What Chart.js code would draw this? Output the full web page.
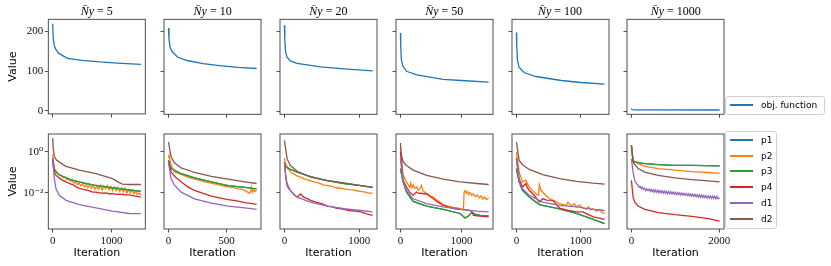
<!DOCTYPE html>
<html lang="en">
<head>
<meta charset="utf-8">
<title>Objective and residuals per N̄y</title>
<script src="https://cdn.jsdelivr.net/npm/chart.js@4.4.1/dist/chart.umd.min.js"></script>
<style>
  html, body { margin: 0; padding: 0; background: #fff; }
  #figure { position: relative; width: 831px; height: 266px; overflow: hidden; }
  .panel { position: absolute; }
  .panel-title {
    position: absolute; top: 3px; text-align: center;
    font-family: "Liberation Serif", "DejaVu Serif", serif; font-size: 12px; line-height: 16px; color: #000;
  }
  .legend {
    position: absolute; box-sizing: border-box; border: 1px solid #cfcfcf; border-radius: 3px;
    background: rgba(255, 255, 255, 0.8);
    font-family: "DejaVu Sans", sans-serif; font-size: 9px; color: #000;
  }
  .legend-row { position: absolute; left: 0; height: 12px; width: 100%; }
  .legend-line { position: absolute; top: 5px; width: 23px; height: 1.5px; }
  .legend-text { position: absolute; top: 0; line-height: 12px; white-space: nowrap; }
</style>
</head>
<body>
<div id="figure"></div>
<script>
const panelTitles = ["5", "10", "20", "50", "100", "1000"];
const seriesNames = ["p1", "p2", "p3", "p4", "d1", "d2"];
const seriesColors = ["#1f77b4", "#ff7f0e", "#2ca02c", "#d62728", "#9467bd", "#8c564b"];
const objLabel = "obj. function";
const objColor = "#1f77b4";

// x range per column (data extent, iterations) and tick values
const xExtent = [1500, 760, 1180, 1445, 1370, 2010];
const xTickValues = [[0, 1000], [0, 500], [0, 1000], [0, 1000], [0, 1000], [0, 2000]];
const objTicks = [0, 100, 200];
const logTicks = [1, 0.01];
const logTickLabels = ["10⁰", "10⁻²"];

// objective function, top row  [iteration, value]
const obj_N5 = [[0, 219], [8, 185], [25, 165], [50, 155], [100, 145], [250, 132], [500, 127], [800, 123], [1100, 120], [1500, 117]];
const obj_N10 = [[0, 208], [5, 180], [15, 160], [30, 150], [80, 135], [160, 127], [300, 119], [420, 115], [600, 110], [760, 107]];
const obj_N20 = [[0, 215], [5, 180], [15, 150], [35, 135], [80, 126], [170, 120], [480, 111], [800, 106], [1180, 101]];
const obj_N50 = [[0, 196], [5, 165], [15, 130], [40, 113], [100, 100], [270, 91], [700, 80], [1000, 77], [1445, 73]];
const obj_N100 = [[0, 197], [5, 165], [15, 130], [40, 110], [120, 97], [300, 87], [700, 77], [1000, 72], [1370, 68]];
const obj_N1000 = [[0, 7], [15, 4], [100, 3.5], [2010, 3.3]];

// residuals, bottom row
const p2_N5 = [[0, 0.8], [10, 0.35], [30, 0.14], [56, 0.105], [90, 0.085], [120, 0.07], [150, 0.072], [180, 0.055], [210, 0.06], [240, 0.045], [270, 0.05], [300, 0.038], [330, 0.042], [360, 0.03], [390, 0.036], [420, 0.026], [450, 0.03], [480, 0.022], [510, 0.028], [540, 0.02], [570, 0.026], [600, 0.018], [630, 0.024], [660, 0.017], [690, 0.025], [720, 0.015], [750, 0.022], [780, 0.015], [810, 0.024], [840, 0.014], [870, 0.022], [900, 0.016], [930, 0.023], [960, 0.014], [990, 0.021], [1020, 0.013], [1050, 0.02], [1080, 0.013], [1110, 0.019], [1140, 0.012], [1170, 0.018], [1200, 0.011], [1230, 0.017], [1260, 0.01], [1290, 0.015], [1320, 0.01], [1350, 0.014], [1380, 0.009], [1410, 0.012], [1440, 0.0085], [1470, 0.01], [1500, 0.008]];
const p3_N5 = [[0, 0.5], [10, 0.3], [30, 0.14], [100, 0.079], [300, 0.045], [500, 0.032], [700, 0.024], [1000, 0.018], [1300, 0.014], [1500, 0.012]];
const p4_N5 = [[0, 0.4], [10, 0.2], [30, 0.1], [56, 0.072], [150, 0.045], [226, 0.035], [300, 0.028], [350, 0.025], [400, 0.02], [452, 0.017], [520, 0.015], [600, 0.0135], [680, 0.011], [734, 0.011], [820, 0.0098], [900, 0.01], [960, 0.0092], [1017, 0.0093], [1080, 0.0086], [1150, 0.0088], [1220, 0.0082], [1300, 0.008], [1380, 0.0072], [1440, 0.0068], [1500, 0.0063]];
const d1_N5 = [[0, 0.47], [28, 0.05], [56, 0.016], [113, 0.0077], [226, 0.0044], [452, 0.0027], [734, 0.0019], [1017, 0.0013], [1300, 0.001], [1500, 0.00098]];
const d2_N5 = [[0, 4.8], [10, 1.3], [30, 0.6], [60, 0.42], [113, 0.32], [226, 0.2], [452, 0.13], [734, 0.087], [1017, 0.05], [1130, 0.032], [1190, 0.027], [1300, 0.026], [1500, 0.026]];

const p2_N10 = [[0, 0.5], [6, 0.69], [23, 0.22], [52, 0.11], [110, 0.08], [170, 0.06], [225, 0.047], [280, 0.04], [330, 0.033], [370, 0.03], [420, 0.026], [470, 0.022], [514, 0.02], [560, 0.019], [600, 0.016], [640, 0.015], [673, 0.012], [700, 0.0095], [710, 0.012], [715, 0.019], [725, 0.011], [735, 0.014], [745, 0.012], [760, 0.013]];
const p3_N10 = [[0, 0.4], [23, 0.155], [110, 0.087], [225, 0.054], [370, 0.035], [514, 0.023], [659, 0.019], [760, 0.016]];
const p4_N10 = [[0, 0.35], [9, 0.22], [23, 0.105], [60, 0.06], [110, 0.035], [160, 0.021], [225, 0.0135], [300, 0.0095], [370, 0.0071], [440, 0.0058], [514, 0.0047], [580, 0.0042], [659, 0.0034], [710, 0.0031], [760, 0.0028]];
const d1_N10 = [[0, 0.32], [23, 0.05], [52, 0.024], [110, 0.011], [225, 0.0052], [370, 0.0032], [514, 0.0023], [659, 0.0019], [760, 0.0016]];
const d2_N10 = [[0, 3.1], [23, 0.58], [52, 0.3], [110, 0.166], [225, 0.1], [370, 0.065], [514, 0.047], [659, 0.035], [760, 0.029]];

const p2_N20 = [[0, 0.5], [13, 0.27], [81, 0.105], [170, 0.068], [260, 0.05], [350, 0.039], [420, 0.033], [460, 0.031], [520, 0.025], [574, 0.023], [640, 0.021], [690, 0.018], [750, 0.017], [798, 0.016], [860, 0.0145], [920, 0.0142], [980, 0.0125], [1022, 0.012], [1080, 0.011], [1130, 0.0102], [1180, 0.0097]];
const p3_N20 = [[0, 0.3], [13, 0.19], [81, 0.141], [170, 0.105], [350, 0.063], [574, 0.04], [798, 0.029], [1022, 0.023], [1180, 0.019]];
const p4_N20 = [[0, 0.32], [20, 0.05], [36, 0.023], [60, 0.016], [81, 0.013], [126, 0.0083], [170, 0.0063], [215, 0.0091], [240, 0.0072], [260, 0.0063], [300, 0.0055], [350, 0.0044], [420, 0.0036], [480, 0.0031], [520, 0.0029], [574, 0.0023], [640, 0.0021], [700, 0.0018], [760, 0.0017], [798, 0.0016], [860, 0.0014], [940, 0.0013], [1022, 0.0012], [1100, 0.00095], [1180, 0.00081]];
const d1_N20 = [[0, 0.32], [20, 0.06], [36, 0.029], [81, 0.013], [170, 0.0063], [350, 0.0036], [574, 0.0023], [798, 0.0017], [1022, 0.0014], [1180, 0.0012]];
const d2_N20 = [[0, 3.7], [36, 0.47], [81, 0.22], [170, 0.115], [350, 0.06], [574, 0.04], [798, 0.031], [1022, 0.023], [1180, 0.019]];

const p2_N50 = [[0, 1.8], [44, 0.072], [99, 0.035], [154, 0.019], [170, 0.03], [190, 0.018], [209, 0.025], [230, 0.017], [264, 0.02], [290, 0.014], [319, 0.016], [346, 0.023], [370, 0.013], [400, 0.011], [429, 0.0093], [480, 0.0075], [538, 0.0064], [600, 0.0045], [650, 0.0035], [703, 0.0026], [780, 0.0023], [868, 0.002], [950, 0.0018], [1033, 0.0016], [1040, 0.0016], [1044, 0.0112], [1060, 0.013], [1080, 0.0095], [1100, 0.012], [1120, 0.0085], [1143, 0.0105], [1170, 0.0075], [1200, 0.009], [1230, 0.0065], [1260, 0.008], [1290, 0.0058], [1320, 0.0072], [1350, 0.005], [1380, 0.0065], [1410, 0.0047], [1445, 0.0058]];
const p3_N50 = [[0, 0.155], [44, 0.035], [99, 0.0112], [209, 0.0039], [429, 0.0023], [703, 0.0016], [978, 0.001], [1060, 0.0006], [1100, 0.0007], [1170, 0.0011], [1240, 0.00088], [1308, 0.00081], [1445, 0.00076]];
const p4_N50 = [[0, 1.0], [44, 0.042], [99, 0.0195], [150, 0.011], [209, 0.0078], [264, 0.0112], [300, 0.0095], [340, 0.0098], [380, 0.0092], [429, 0.0093], [480, 0.007], [538, 0.0052], [600, 0.0038], [703, 0.0025], [800, 0.002], [900, 0.0017], [978, 0.0016], [1060, 0.0015], [1143, 0.0014], [1175, 0.0012], [1198, 0.00081], [1300, 0.00075], [1445, 0.00068]];
const d1_N50 = [[0, 0.47], [44, 0.035], [99, 0.0135], [209, 0.0052], [429, 0.003], [703, 0.0021], [978, 0.0016], [1253, 0.0013], [1445, 0.0012]];
const d2_N50 = [[0, 2.75], [16, 0.69], [44, 0.35], [99, 0.22], [209, 0.13], [429, 0.072], [703, 0.047], [978, 0.035], [1253, 0.029], [1445, 0.026]];

const p2_N100 = [[0, 1.0], [42, 0.105], [94, 0.035], [147, 0.042], [199, 0.019], [251, 0.013], [330, 0.0078], [345, 0.008], [356, 0.026], [382, 0.0135], [450, 0.008], [513, 0.0052], [600, 0.004], [670, 0.003], [775, 0.0025], [800, 0.0035], [850, 0.0024], [900, 0.003], [932, 0.0021], [980, 0.0026], [1037, 0.0018], [1089, 0.0016], [1120, 0.0021], [1150, 0.0015], [1194, 0.0017], [1246, 0.0013], [1290, 0.0016], [1330, 0.0011], [1370, 0.001]];
const p3_N100 = [[0, 0.155], [42, 0.035], [94, 0.0135], [199, 0.0063], [356, 0.0027], [408, 0.0025], [670, 0.0017], [932, 0.001], [1194, 0.00052], [1370, 0.00032]];
const p4_N100 = [[0, 0.5], [42, 0.05], [94, 0.0195], [147, 0.029], [170, 0.018], [199, 0.0135], [280, 0.0075], [356, 0.0036], [408, 0.0052], [470, 0.0045], [565, 0.0044], [620, 0.0028], [670, 0.0018], [800, 0.0014], [932, 0.0012], [1037, 0.0012], [1110, 0.0009], [1194, 0.00068], [1290, 0.0006], [1370, 0.00052]];
const d1_N100 = [[0, 0.47], [42, 0.035], [94, 0.016], [199, 0.0077], [408, 0.0036], [670, 0.0025], [932, 0.0021], [1194, 0.0016], [1370, 0.0014]];
const d2_N100 = [[0, 3.1], [42, 0.39], [94, 0.24], [199, 0.141], [408, 0.079], [670, 0.05], [932, 0.037], [1194, 0.03], [1370, 0.027]];

const p2_N1000 = [[0, 2.1], [38, 0.39], [153, 0.27], [305, 0.2], [611, 0.155], [992, 0.13], [1374, 0.11], [1756, 0.1], [2010, 0.091]];
const p3_N1000 = [[0, 2.1], [38, 0.35], [153, 0.3], [305, 0.27], [611, 0.24], [992, 0.224], [1374, 0.22], [2010, 0.21]];
const p4_N1000 = [[0, 0.042], [38, 0.0063], [76, 0.0036], [153, 0.0023], [305, 0.0016], [611, 0.0011], [992, 0.00087], [1374, 0.00072], [1756, 0.00056], [2010, 0.00042]];
const d1_N1000 = [[0, 0.47], [38, 0.105], [76, 0.042], [110, 0.03], [150, 0.024], [175, 0.019], [200, 0.021], [225, 0.016], [250, 0.019], [275, 0.015], [300, 0.017], [325, 0.013], [350, 0.016], [375, 0.013], [400, 0.0155], [425, 0.012], [450, 0.015], [475, 0.0115], [500, 0.0145], [525, 0.011], [550, 0.014], [575, 0.011], [600, 0.0135], [625, 0.0105], [650, 0.013], [675, 0.0102], [700, 0.0128], [725, 0.0098], [750, 0.0125], [775, 0.0096], [800, 0.012], [825, 0.0093], [850, 0.0118], [875, 0.0092], [900, 0.0115], [925, 0.009], [950, 0.011], [975, 0.0087], [1000, 0.0108], [1025, 0.0085], [1050, 0.0105], [1075, 0.0083], [1100, 0.0102], [1125, 0.0081], [1150, 0.0099], [1175, 0.0079], [1200, 0.0096], [1225, 0.0077], [1250, 0.0094], [1275, 0.0075], [1300, 0.0092], [1325, 0.0072], [1350, 0.009], [1375, 0.007], [1400, 0.0088], [1425, 0.0068], [1450, 0.0085], [1475, 0.0066], [1500, 0.0083], [1525, 0.0064], [1550, 0.008], [1575, 0.0062], [1600, 0.0078], [1625, 0.006], [1650, 0.0076], [1675, 0.0059], [1700, 0.0074], [1725, 0.0057], [1750, 0.0072], [1775, 0.0056], [1800, 0.0071], [1825, 0.0055], [1850, 0.007], [1875, 0.0054], [1900, 0.0069], [1925, 0.0053], [1950, 0.0068], [1975, 0.0052], [2010, 0.0058]];
const d2_N1000 = [[0, 2.1], [38, 0.32], [153, 0.155], [305, 0.105], [611, 0.072], [992, 0.054], [1374, 0.045], [1756, 0.039], [2010, 0.035]];

// p1 lies under p3 in every panel, so it never shows
const p1_N5 = p3_N5, p1_N10 = p3_N10, p1_N20 = p3_N20, p1_N50 = p3_N50, p1_N100 = p3_N100, p1_N1000 = p3_N1000;

const objSeries = [obj_N5, obj_N10, obj_N20, obj_N50, obj_N100, obj_N1000];
const residualSeries = [
  [p1_N5, p2_N5, p3_N5, p4_N5, d1_N5, d2_N5],
  [p1_N10, p2_N10, p3_N10, p4_N10, d1_N10, d2_N10],
  [p1_N20, p2_N20, p3_N20, p4_N20, d1_N20, d2_N20],
  [p1_N50, p2_N50, p3_N50, p4_N50, d1_N50, d2_N50],
  [p1_N100, p2_N100, p3_N100, p4_N100, d1_N100, d2_N100],
  [p1_N1000, p2_N1000, p3_N1000, p4_N1000, d1_N1000, d2_N1000]
];

const SPINE_COLOR = "#3d3d3d";
const SERIF = "'Liberation Serif', 'DejaVu Serif', serif";
const SANS = "'DejaVu Sans', sans-serif";

// frame around each plot area (matplotlib spines)
const framePlugin = {
  id: "frame",
  afterDraw(chart) {
    const { ctx, chartArea: a } = chart;
    ctx.save();
    ctx.strokeStyle = SPINE_COLOR;
    ctx.lineWidth = 0.9;
    ctx.strokeRect(a.left, a.top, a.right - a.left, a.bottom - a.top);
    ctx.restore();
  }
};

document.addEventListener("DOMContentLoaded", () => {
  const figure = document.getElementById("figure");
  for (let col = 0; col < 6; col++) {
    makePanel(figure, 0, col);
    makePanel(figure, 1, col);
    addTitle(figure, col);
  }
  addLegend(figure, 725, 96, 100, 19, [objLabel], [objColor]);
  addLegend(figure, 725, 131, 52, 98, seriesNames, seriesColors);
});

function boxLeftOf(col) {
  return 48.3 + col * 115.8;
}

function toPoints(pairs) {
  return pairs.map(([x, y]) => ({ x, y }));
}

function makePanel(figure, row, col) {
  const boxWidth = 97;
  const boxHeight = 95;
  const leftSpace = col === 0 ? boxLeftOf(0) : 14;
  const rightSpace = 16;
  const wrapTop = row === 0 ? 0 : 122;
  const wrapHeight = row === 0 ? 122 : 144;
  const padTop = row === 0 ? 19.3 : 12;
  const xAxisHeight = wrapHeight - padTop - boxHeight;

  const wrap = document.createElement("div");
  wrap.className = "panel";
  wrap.style.left = `${boxLeftOf(col) - leftSpace}px`;
  wrap.style.top = `${wrapTop}px`;
  wrap.style.width = `${leftSpace + boxWidth + rightSpace}px`;
  wrap.style.height = `${wrapHeight}px`;
  const canvas = document.createElement("canvas");
  wrap.appendChild(canvas);
  figure.appendChild(wrap);

  const margin = xExtent[col] * 0.05;
  const tickFont = { family: SERIF, size: 11 };
  const gridStyle = { drawOnChartArea: false, drawTicks: true, tickLength: 3.5, color: SPINE_COLOR, lineWidth: 0.9 };

  let datasets;
  if (row === 0) {
    datasets = [{ label: objLabel, data: toPoints(objSeries[col]), borderColor: objColor, order: 0 }];
  } else {
    // later series on top, as matplotlib stacks them
    datasets = seriesNames.map((name, i) => ({
      label: name,
      data: toPoints(residualSeries[col][i]),
      borderColor: seriesColors[i],
      order: seriesNames.length - i
    }));
  }
  datasets.forEach((ds) => {
    ds.borderWidth = 1.3;
    ds.pointRadius = 0;
    ds.fill = false;
    ds.tension = 0;
  });

  const yScale = row === 0
    ? {
        type: "linear",
        min: -7.5,
        max: 230,
        afterBuildTicks: (axis) => { axis.ticks = objTicks.map((v) => ({ value: v })); },
        ticks: { display: col === 0, font: tickFont, color: "#111", padding: 1.5, callback: (v) => String(v) }
      }
    : {
        type: "logarithmic",
        min: 1.75e-4,
        max: 7.55,
        afterBuildTicks: (axis) => { axis.ticks = logTicks.map((v) => ({ value: v })); },
        ticks: { display: col === 0, font: tickFont, color: "#111", padding: 1.5, callback: (v) => logTickLabels[logTicks.indexOf(v)] }
      };
  yScale.bounds = "data";
  yScale.grid = gridStyle;
  yScale.border = { display: false };
  yScale.afterFit = (axis) => { axis.width = leftSpace; };
  yScale.title = {
    display: col === 0,
    text: "Value",
    font: { family: SANS, size: 11 },
    color: "#000",
    padding: { top: 7, bottom: 0 }
  };

  const xScale = {
    type: "linear",
    bounds: "data",
    min: -margin,
    max: xExtent[col] + margin,
    afterBuildTicks: (axis) => { axis.ticks = xTickValues[col].map((v) => ({ value: v })); },
    ticks: { display: row === 1, font: tickFont, color: "#111", padding: 2, maxRotation: 0, autoSkip: false, callback: (v) => String(v) },
    grid: gridStyle,
    border: { display: false },
    afterFit: (axis) => { axis.height = xAxisHeight; },
    title: {
      display: row === 1,
      text: "Iteration",
      font: { family: SANS, size: 11 },
      color: "#000",
      padding: { top: 0, bottom: 6.5 }
    }
  };

  new Chart(canvas, {
    type: "line",
    data: { datasets },
    options: {
      responsive: true,
      maintainAspectRatio: false,
      animation: false,
      layout: { autoPadding: false, padding: { top: padTop, left: 0, right: rightSpace, bottom: 0 } },
      plugins: { legend: { display: false }, tooltip: { enabled: false } },
      scales: { x: xScale, y: yScale }
    },
    plugins: [framePlugin]
  });
}

function addTitle(figure, col) {
  const title = document.createElement("div");
  title.className = "panel-title";
  title.style.left = `${boxLeftOf(col)}px`;
  title.style.width = "97px";
  title.innerHTML = `<i>N&#772;y</i> = ${panelTitles[col]}`;
  figure.appendChild(title);
}

function addLegend(figure, left, top, width, height, names, colors) {
  const box = document.createElement("div");
  box.className = "legend";
  box.style.left = `${left}px`;
  box.style.top = `${top}px`;
  box.style.width = `${width}px`;
  box.style.height = `${height}px`;
  names.forEach((name, i) => {
    const rowEl = document.createElement("div");
    rowEl.className = "legend-row";
    rowEl.style.top = `${Math.round(2 + i * 15.7)}px`;
    rowEl.innerHTML = `
      <span class="legend-line" style="left:3.5px;background:${colors[i]}"></span>
      <span class="legend-text" style="left:35px">${name}</span>`;
    box.appendChild(rowEl);
  });
  figure.appendChild(box);
}
</script>
</body>
</html>
